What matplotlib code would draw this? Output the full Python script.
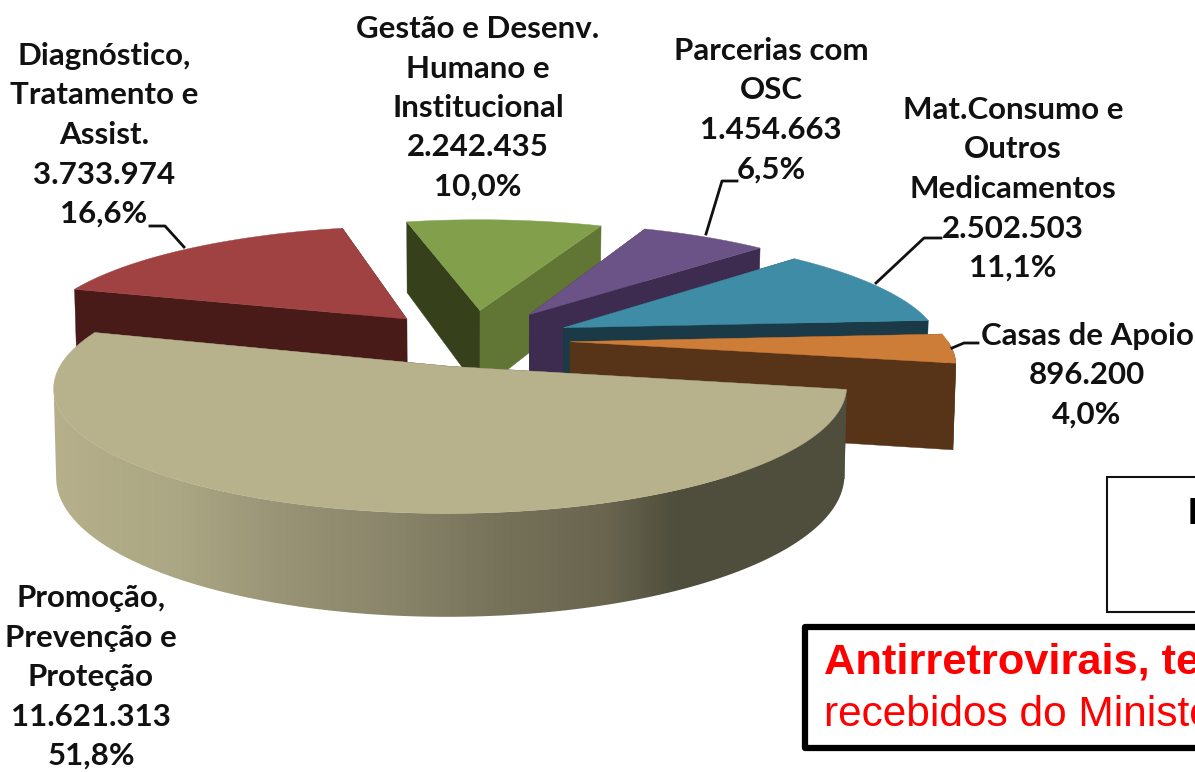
import numpy as np
import matplotlib
matplotlib.use('Agg')
import matplotlib.pyplot as plt
from matplotlib.colors import LinearSegmentedColormap
from matplotlib.patches import Polygon, Rectangle

plt.rcParams['font.family'] = ['Lato', 'DejaVu Sans']

# chart data, clockwise from the big slice
names = ['Promoção,\nPrevenção e\nProteção', 'Diagnóstico,\nTratamento e\nAssist.',
         'Gestão e Desenv.\nHumano e\nInstitucional', 'Parcerias com\nOSC',
         'Mat.Consumo e\nOutros\nMedicamentos', 'Casas de Apoio']
values = [11621313, 3733974, 2242435, 1454663, 2502503, 896200]
value_labels = ['11.621.313', '3.733.974', '2.242.435', '1.454.663', '2.502.503', '896.200']
pct_labels = ['51,8%', '16,6%', '10,0%', '6,5%', '11,1%', '4,0%']

top_colors = ['#b7b18c', '#a04242', '#82a04c', '#6c5387', '#3e8ca6', '#cd7d38']
side_a = ['#4f4d3c', '#481b19', '#36401b', '#3e2c50', '#1a3a47', '#573318']
side_b = ['#4f4d3c', '#481b19', '#617534', '#3e2c50', '#1a3a47', '#573318']
explode = [0.23, 0.26, 0.27, 0.28, 0.27, 0.26]

START = 10.5  # where the big slice starts, degrees in the pie plane
CX, CY, RX, RY = 472., 340., 377., 114.
PERSP, SHRINK, DEPTH = 0.16, 0.006, 84.


def project(x, y, z=0.):
    w = 1 / (1 - PERSP * y)
    sx = CX + RX * x * w * (1 - SHRINK * z)
    sy = CY + RY * y * w * (1 - SHRINK * z) + DEPTH * z * w
    return sx, sy


fig = plt.figure(figsize=(11.95, 7.72), dpi=100)
ax = fig.add_axes([0, 0, 1, 1])
ax.set_xlim(0, 1195)
ax.set_ylim(772, 0)
ax.axis('off')

total = sum(values)
spans = [v / total * 360 for v in values]
starts = START + np.cumsum([0] + spans[:-1])

wall_cmap = LinearSegmentedColormap.from_list('wall', [
    (0.0, '#b7b18c'), (0.16, '#aca784'), (0.31, '#979274'), (0.44, '#89856a'),
    (0.57, '#76725a'), (0.70, '#69654f'), (0.79, '#4f4d3c'), (1.0, '#4f4d3c')])


def poly(pts, color, z):
    ax.add_patch(Polygon(pts, closed=True, facecolor=color, edgecolor=color, lw=0.3, zorder=z))


def draw_slice(i, z):
    t = np.radians(np.linspace(starts[i], starts[i] + spans[i], 160))
    mid = np.radians(starts[i] + spans[i] / 2)
    ox, oy = explode[i] * np.cos(mid), explode[i] * np.sin(mid)
    x = ox + np.cos(t)
    y = oy + np.sin(t)
    # radial side faces
    for xe, ye, col in [(x[0], y[0], side_a[i]), (x[-1], y[-1], side_b[i])]:
        poly([project(ox, oy), project(xe, ye), project(xe, ye, 1), project(ox, oy, 1)], col, z)
    # outer wall stops where the rim turns away from the viewer
    sx = np.array([project(a, b)[0] for a, b in zip(x, y)])
    keep = np.arange(len(t))
    if i == 0:
        keep = keep[:np.argmin(sx) + 1]
    else:
        keep = keep[np.sin(t) > 0]
    if len(keep) > 1:
        xw, yw = x[keep], y[keep]
        wall = [project(a, b) for a, b in zip(xw, yw)] + [project(a, b, 1) for a, b in zip(xw[::-1], yw[::-1])]
        if i == 0:
            # the big slice has a shaded wall
            clip = Polygon(wall, closed=True, transform=ax.transData, facecolor='none', edgecolor='none')
            ax.add_patch(clip)
            im = ax.imshow(np.linspace(0, 1, 256).reshape(1, -1), extent=(40, 848, 772, 0), cmap=wall_cmap,
                           aspect='auto', zorder=z + 0.1, vmin=0, vmax=1)
            im.set_clip_path(clip)
        else:
            poly(wall, side_a[i], z + 0.1)
    top = [project(ox, oy)] + [project(a, b) for a, b in zip(x, y)]
    poly(top, top_colors[i], z + 0.2)


for z, i in enumerate([1, 2, 3, 4, 5, 0]):
    draw_slice(i, z + 1)
ax.set_xlim(0, 1195)
ax.set_ylim(772, 0)

# data labels, centre of each block
label_pos = [(91, 677), (104, 135), (478, 108), (771, 110), (1013, 189), (1087, 375)]
for i, (lx, ly) in enumerate(label_pos):
    txt = names[i] + '\n' + value_labels[i] + '\n' + pct_labels[i]
    ax.text(lx, ly, txt, ha='center', va='center', multialignment='center', fontsize=22.5,
            fontweight='bold', color='#111111', linespacing=1.5, zorder=10)

# leader lines
leaders = [([150, 165, 184], [226, 226, 247]), ([737, 722, 706], [181, 181, 234]),
           ([941, 924, 876], [238, 238, 283]), ([978, 964, 952], [343, 343, 348])]
for lxs, lys in leaders:
    ax.plot(lxs, lys, color='#111111', lw=2, zorder=9)

# boxes cut by the picture edge
ax.add_patch(Rectangle((1107, 477), 200, 135, facecolor='white', edgecolor='#111111', lw=1.5, zorder=11))
ax.text(1188, 515, 'F', fontsize=26, fontweight='bold', family='Liberation Sans', ha='left', va='center',
        color='black', zorder=12)
ax.add_patch(Rectangle((805, 627), 600, 121, facecolor='white', edgecolor='black', lw=4.5, zorder=11, joinstyle='round'))
ax.text(824, 662, 'Antirretrovirais, testes', fontsize=31.2, fontweight='bold', family='Liberation Sans',
        color='#ff0000', ha='left', va='center', zorder=12)
ax.text(824, 715, 'recebidos do Ministério', fontsize=30.5, family='Liberation Sans', color='#ff0000',
        ha='left', va='center', zorder=12)

fig.savefig('out.png', dpi=100)
